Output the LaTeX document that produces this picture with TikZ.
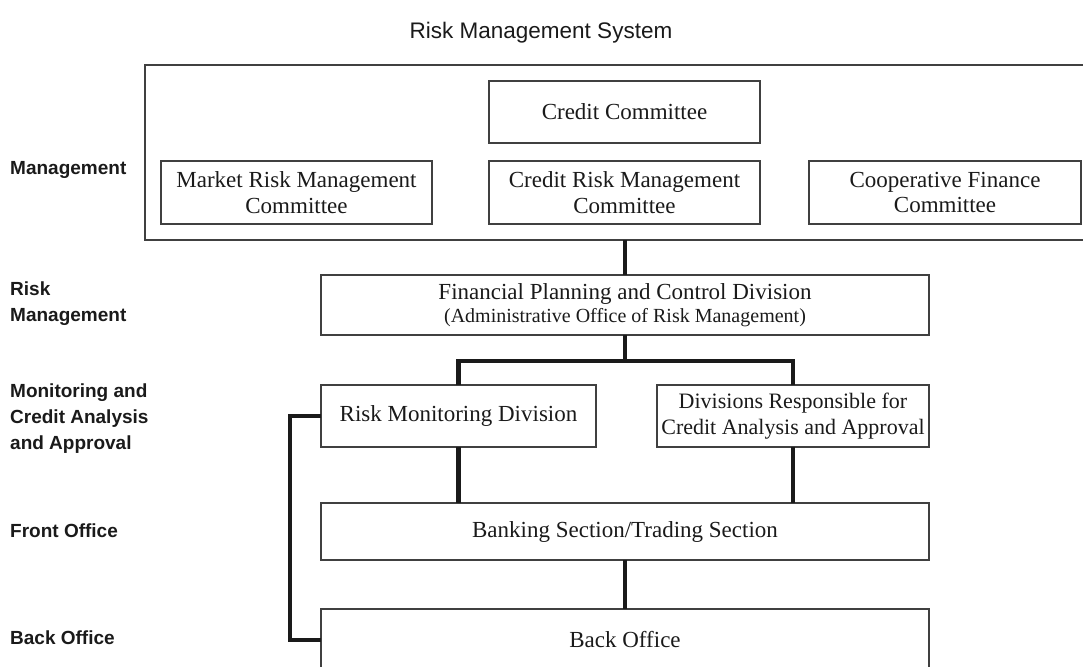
\documentclass[tikz,border=0pt]{standalone}
\usepackage{fontspec}
\setmainfont{Liberation Serif}
\setsansfont{Liberation Sans}
\definecolor{boxgray}{HTML}{404040}
\definecolor{ink}{HTML}{1A1A1A}
\begin{document}
\begin{tikzpicture}[x=1pt,y=-1pt,
  box/.style={draw=boxgray, line width=1.2pt, inner sep=0pt, outer sep=0pt,
    align=center, text=ink, font=\fontsize{23}{25.5}\selectfont},
  openbox/.style={inner sep=0pt, outer sep=0pt, align=center, text=ink,
    font=\fontsize{23}{25}\selectfont},
  conn/.style={line width=4.5pt, draw=ink, line join=miter},
  lvl/.style={anchor=north west, align=left, inner sep=0pt, text=ink,
    font=\sffamily\bfseries\fontsize{19}{26}\selectfont},
]
\useasboundingbox (0,0) rectangle (1083,666);
\clip (0,0) rectangle (1083,666);

% title
\node[inner sep=0pt, text=ink, font=\sffamily\fontsize{22.5}{25}\selectfont] (title) at (541,33) {Risk Management System};

% level labels
\node[lvl] (lmgmt) at (10,161) {Management};
\node[lvl] (lrisk) at (10,282) {Risk\\Management};
\node[lvl] (lmon) at (10,384) {Monitoring and\\Credit Analysis\\and Approval};
\node[lvl] (lfront) at (10,524) {Front Office};
\node[lvl] (lback) at (10,631) {Back Office};

% management frame (runs off the right edge)
\node[draw=boxgray, line width=1.2pt, inner sep=0pt, outer sep=0pt,
  minimum width=960pt, minimum height=175pt] (mgmt) at (625,152.5) {};

% committees
\node[box, minimum width=271pt, minimum height=62pt] (cc) at (624.5,112) {Credit Committee};
\node[box, minimum width=271pt, minimum height=63pt] (mrm) at (296.5,192.5) {Market Risk Management\\Committee};
\node[box, minimum width=271pt, minimum height=63pt] (crm) at (624.5,192.5) {Credit Risk Management\\Committee};
\node[box, minimum width=272pt, minimum height=63pt] (cfc) at (945,192.5) {Cooperative Finance\\Committee};

% divisions
\node[box, minimum width=608pt, minimum height=60pt] (fpc) at (625,305)
  {Financial Planning and Control Division\\[-3pt]{\fontsize{20}{21}\selectfont(Administrative Office of Risk Management)}};
\node[box, minimum width=275pt, minimum height=62pt] (rmd) at (458.5,416) {Risk Monitoring Division};
\node[box, minimum width=272pt, minimum height=62pt, font=\fontsize{22}{25.5}\selectfont] (dca) at (793,416) {Divisions Responsible for\\Credit Analysis and Approval};
\node[box, minimum width=608pt, minimum height=57pt] (bank) at (625,531.5) {Banking Section/Trading Section};
\node[openbox, minimum width=608pt, minimum height=62pt] (bo) at (625,640) {Back Office};
\draw[draw=boxgray, line width=1.2pt] (bo.south west) -- (bo.north west) -- (bo.north east) -- (bo.south east);

% connectors
\draw[conn] (mgmt.south -| fpc.north) -- (fpc.north);
\coordinate (split) at (625,361);
\draw[conn] (fpc.south) -- (split);
\draw[conn] (rmd.north) -- (rmd.north |- split) -- (dca.north |- split) -- (dca.north);
\draw[conn] (rmd.south) -- (rmd.south |- bank.north);
\draw[conn] (dca.south) -- (dca.south |- bank.north);
\draw[conn] (bank.south) -- (bo.north);
\coordinate (lft) at (290,416);
\draw[conn] (rmd.west) -- (lft) -- (lft |- bo.west) -- (bo.west);
\end{tikzpicture}
\end{document}
